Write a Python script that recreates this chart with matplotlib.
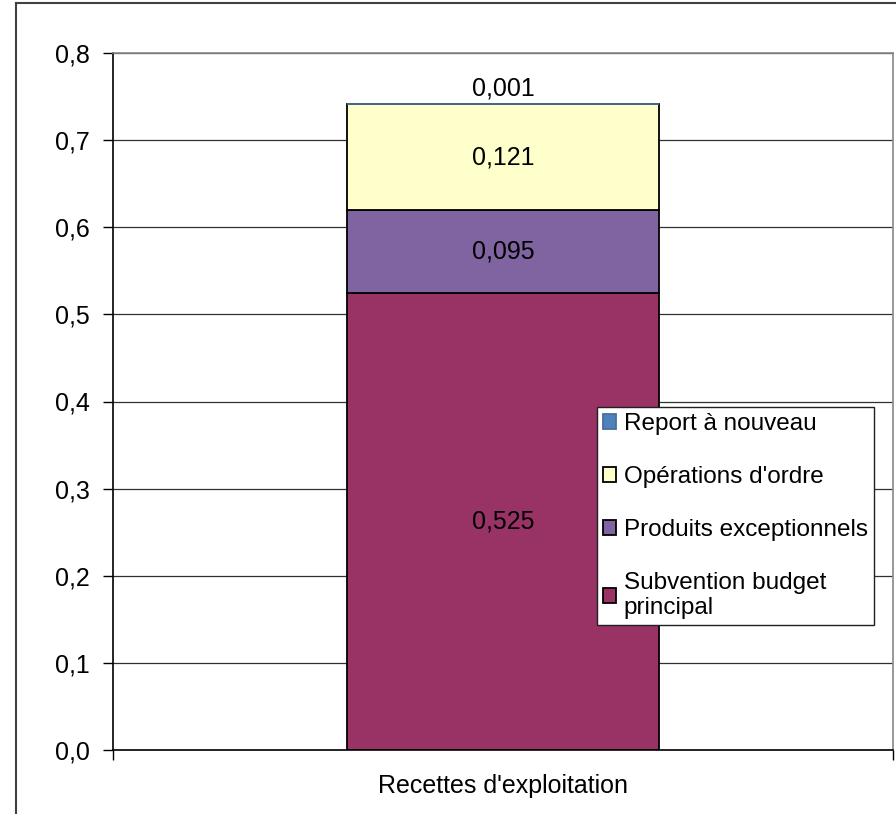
import matplotlib.pyplot as plt
from matplotlib.lines import Line2D

plt.rcParams['font.family'] = ['Liberation Sans', 'DejaVu Sans']

# data
categories = ["Recettes d'exploitation"]
series = ['Subvention budget\nprincipal', 'Produits exceptionnels', "Opérations d'ordre", 'Report à nouveau']
values = [0.525, 0.095, 0.121, 0.001]
colors = ['#993366', '#8064a2', '#ffffcc', '#4f81bd']
edges = ['black', 'black', 'black', '#4a6f9a']
yticks = [0.0, 0.1, 0.2, 0.3, 0.4, 0.5, 0.6, 0.7, 0.8]

fig = plt.figure(figsize=(8.96, 8.14), dpi=100)
ax = fig.add_axes([113/896, 64/814, 780/896, 697/814])

# outer chart frame (only left and top edges are visible)
fig.add_artist(Line2D([16/896, 16/896], [0, 1 - 3/814], transform=fig.transFigure, color='#404040', lw=1.5))
fig.add_artist(Line2D([16/896, 1], [1 - 3/814, 1 - 3/814], transform=fig.transFigure, color='#404040', lw=1.5))

ax.set_axisbelow(True)
ax.yaxis.grid(True, color='#303030', lw=0.9)

bottom = 0
handles = []
for i in range(len(values)):
    b = ax.bar(0, values[i], width=0.4, bottom=bottom, color=colors[i], edgecolor=edges[i], linewidth=1.3, label=series[i])
    handles.append(b)
    txt = ('%.3f' % values[i]).replace('.', ',')
    if values[i] < 0.01:
        ax.text(0, bottom + values[i] + 0.003, txt, ha='center', va='bottom', fontsize=18)
    else:
        ax.text(0, bottom + values[i] / 2, txt, ha='center', va='center', fontsize=18)
    bottom += values[i]

ax.set_xlim(-0.5, 0.5)
ax.set_ylim(0, 0.8)
ax.set_yticks(yticks)
ax.set_yticklabels([('%.1f' % t).replace('.', ',') for t in yticks], fontsize=18)
ax.set_xticks([0])
ax.set_xticklabels(categories, fontsize=18)
ax.set_xticks([-0.5, 0.5], minor=True)
ax.tick_params(axis='x', which='major', length=0, pad=17)
ax.tick_params(axis='x', which='minor', length=7, width=1, direction='out')
ax.tick_params(axis='y', length=7, width=1, direction='out', pad=10)

ax.spines['left'].set_color('black')
ax.spines['bottom'].set_color('black')
ax.spines['top'].set_color('#888888')
ax.spines['right'].set_color('#888888')
for s in ax.spines.values():
    s.set_linewidth(1.2)

leg = ax.legend(handles[::-1], series[::-1], loc='upper left', bbox_to_anchor=(0.6205, 0.492),
                fontsize=17.5, frameon=True, fancybox=False, framealpha=1, edgecolor='#202020',
                handlelength=0.55, handleheight=0.55, handletextpad=0.3, labelspacing=1.27,
                borderpad=0.25, borderaxespad=0)
leg.get_frame().set_linewidth(1.0)

fig.savefig('out.png', dpi=100)
